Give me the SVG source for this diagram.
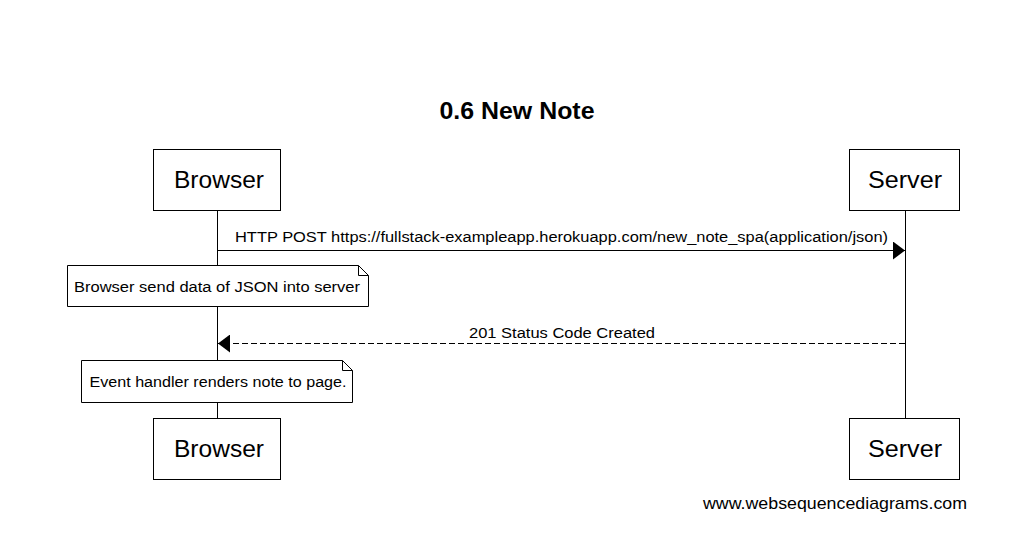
<svg xmlns="http://www.w3.org/2000/svg" width="1018" height="541" viewBox="0 0 1018 541">
<style>
text{font-family:"Liberation Sans",Arial,sans-serif;fill:#000}
.box{fill:#fff;stroke:#000;stroke-width:1}
.actor{font-size:24px;text-anchor:middle}
.msg{font-size:15.5px;text-anchor:middle}
.note{font-size:15.5px;text-anchor:middle}
.life{stroke:#000;stroke-width:1;fill:none}
</style>
<defs>
<marker id="ah" markerWidth="12" markerHeight="18" refX="12" refY="9" orient="auto" markerUnits="userSpaceOnUse">
<path d="M0,0 L12,9 L0,18 Z" fill="#000"/>
</marker>
</defs>
<rect width="1018" height="541" fill="#fff"/>
<text x="517" y="119" font-size="24" font-weight="bold" text-anchor="middle" textLength="155" lengthAdjust="spacingAndGlyphs">0.6 New Note</text>
<g id="lifelines">
<line class="life" x1="217.5" y1="210" x2="217.5" y2="418"/>
<line class="life" x1="905.5" y1="210" x2="905.5" y2="418"/>
</g>
<g id="browser-top"><rect class="box" x="153.5" y="149.5" width="127" height="61"/><text class="actor" x="219" y="188" textLength="90" lengthAdjust="spacingAndGlyphs">Browser</text></g>
<g id="server-top"><rect class="box" x="849.5" y="149.5" width="110" height="61"/><text class="actor" x="905" y="188" textLength="74" lengthAdjust="spacingAndGlyphs">Server</text></g>
<g id="browser-bottom"><rect class="box" x="153.5" y="418.5" width="127" height="61"/><text class="actor" x="219" y="457" textLength="90" lengthAdjust="spacingAndGlyphs">Browser</text></g>
<g id="server-bottom"><rect class="box" x="849.5" y="418.5" width="110" height="61"/><text class="actor" x="905" y="457" textLength="74" lengthAdjust="spacingAndGlyphs">Server</text></g>
<g id="connectors">
<line x1="217.5" y1="250.5" x2="905" y2="250.5" stroke="#000" marker-end="url(#ah)"/>
<text class="msg" x="561.5" y="242" textLength="653" lengthAdjust="spacingAndGlyphs">HTTP POST https://fullstack-exampleapp.herokuapp.com/new_note_spa(application/json)</text>
<line x1="905" y1="343.5" x2="218" y2="343.5" stroke="#000" stroke-dasharray="6,3" marker-end="url(#ah)"/>
<text class="msg" x="562" y="338" textLength="186" lengthAdjust="spacingAndGlyphs">201 Status Code Created</text>
</g>
<g id="note1">
<path class="box" d="M67.5,265.5 H358.5 L368.5,275.5 V306.5 H67.5 Z"/>
<path d="M358.5,265.5 V275.5 H368.5" fill="none" stroke="#000"/>
<text class="note" x="217" y="292" textLength="286" lengthAdjust="spacingAndGlyphs">Browser send data of JSON into server</text>
</g>
<g id="note2">
<path class="box" d="M81.5,360.5 H342.5 L352.5,370.5 V402.5 H81.5 Z"/>
<path d="M342.5,360.5 V370.5 H352.5" fill="none" stroke="#000"/>
<text class="note" x="218" y="387" textLength="257" lengthAdjust="spacingAndGlyphs">Event handler renders note to page.</text>
</g>
<text x="967" y="509" font-size="17" text-anchor="end" textLength="264" lengthAdjust="spacingAndGlyphs">www.websequencediagrams.com</text>
</svg>
